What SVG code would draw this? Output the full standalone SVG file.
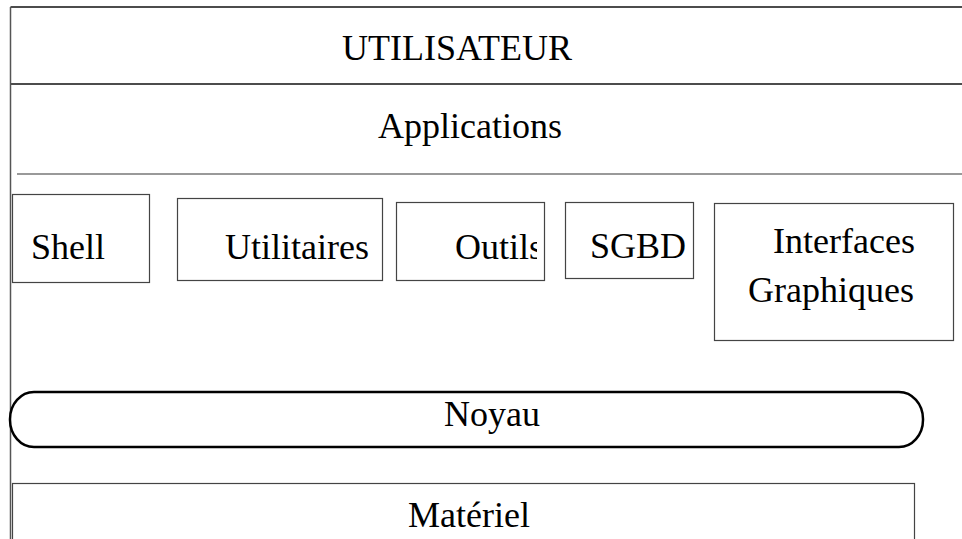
<svg xmlns="http://www.w3.org/2000/svg" width="962" height="539" viewBox="0 0 962 539">
  <style>
    text { font-family: "Liberation Serif", "Times New Roman", serif; font-size: 36px; fill: #000; }
    .mid { text-anchor: middle; }
    .frame { stroke: #111; stroke-width: 1.5; fill: none; }
    .sep { stroke: #777; stroke-width: 1.5; fill: none; }
    .box { stroke: #444; stroke-width: 1.2; fill: #fff; }
    .kernel { stroke: #000; stroke-width: 2.5; fill: #fff; }
  </style>
  <defs>
    <clipPath id="clip-outils">
      <rect x="396" y="202" width="141" height="79"/>
    </clipPath>
  </defs>
  <rect width="962" height="539" fill="#fff"/>

  <!-- layer frame lines -->
  <g id="connectors">
    <line class="frame" x1="10.5" y1="7" x2="962" y2="7"/>
    <line class="frame" x1="10.5" y1="84" x2="962" y2="84"/>
    <line class="sep" x1="17" y1="174" x2="962" y2="174"/>
    <line x1="10.5" y1="7" x2="10.5" y2="539" stroke="#555" stroke-width="1.5"/>
  </g>

  <g id="utilisateur">
    <text class="mid" x="457" y="60">UTILISATEUR</text>
  </g>

  <g id="applications">
    <text class="mid" x="470" y="138">Applications</text>
  </g>

  <g id="shell">
    <rect class="box" x="12.5" y="194.5" width="137" height="88"/>
    <text x="31" y="259">Shell</text>
  </g>

  <g id="utilitaires">
    <rect class="box" x="177.5" y="198.5" width="205" height="82"/>
    <text x="225" y="259">Utilitaires</text>
  </g>

  <g id="outils">
    <rect class="box" x="396.5" y="202.5" width="148" height="78"/>
    <!-- label is wider than its frame and gets cut at the right -->
    <text x="455" y="259" clip-path="url(#clip-outils)">Outils</text>
  </g>

  <g id="sgbd">
    <rect class="box" x="565.5" y="202.5" width="128" height="76"/>
    <text x="590" y="258">SGBD</text>
  </g>

  <g id="interfaces">
    <rect class="box" x="714.5" y="203.5" width="239" height="137"/>
    <text x="773" y="253">Interfaces</text>
    <text x="748" y="302">Graphiques</text>
  </g>

  <g id="noyau">
    <rect class="kernel" x="10" y="392" width="913" height="55" rx="24" ry="27"/>
    <text class="mid" x="492" y="426">Noyau</text>
  </g>

  <g id="materiel">
    <rect class="box" x="12.5" y="483.5" width="902" height="70"/>
    <text class="mid" x="469" y="527">Matériel</text>
  </g>
</svg>
